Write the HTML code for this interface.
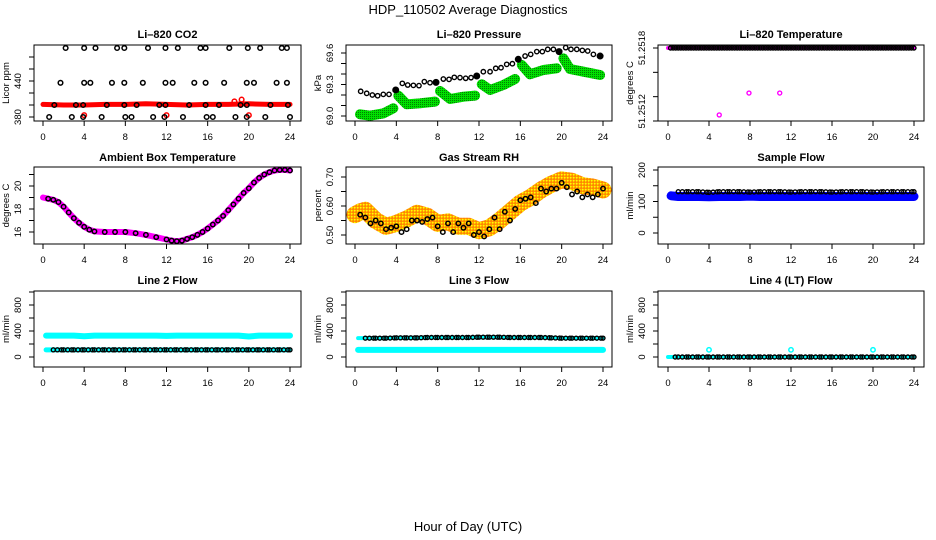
<!DOCTYPE html>
<html><head><meta charset="utf-8"><style>
html,body{margin:0;padding:0;background:#fff;}
svg{display:block;font-family:"Liberation Sans",sans-serif;}
</style></head><body>
<svg id="chart" width="936" height="540" viewBox="0 0 936 540">
<defs>
<pattern id="rhpat" width="3" height="3" patternUnits="userSpaceOnUse">
<rect width="3" height="3" fill="#ffa000"/><rect width="1.5" height="1.5" fill="#ffff00"/><rect x="1.5" y="1.5" width="1" height="1" fill="#ff4000"/>
</pattern>
<pattern id="grpat" width="2" height="2" patternUnits="userSpaceOnUse">
<rect width="2" height="2" fill="#00e000"/><rect width="1" height="1" fill="#008000"/>
</pattern>
</defs>
<text x="468" y="14" font-size="13" text-anchor="middle">HDP_110502  Average Diagnostics</text>
<text x="468" y="531" font-size="13" text-anchor="middle">Hour of Day (UTC)</text>
</svg>
<script>
// ---- data ----
const xTicks = [0,4,8,12,16,20,24];
// CO2
const co2RedHours = [0,2,4,6,8,10,12,14,16,18,20,22,24];
const co2RedVals = [401,400,400,401,401,402,401,400,401,401,402,401,401];
const co2RedOutHours = [4.0,12.0,20.0,18.6,19.3];
const co2RedOutVals = [383,383,383,406,409];
const co2BlkHours = [2.2,4.0,5.1,7.2,7.9,10.2,11.9,13.1,15.3,15.8,18.1,19.9,21.1,23.2,23.7,
 1.7,4.0,4.6,6.7,7.9,9.7,11.9,12.6,14.7,15.8,17.6,19.8,20.5,22.7,23.7,
 1.1,3.2,3.9,6.2,7.9,9.1,11.3,11.9,14.2,15.8,17.1,19.2,19.8,22.1,23.8,
 0.6,2.8,3.9,5.7,8.0,8.6,10.7,11.8,13.6,15.9,16.5,18.7,19.8,21.6,24.0];
const co2BlkVals = [495,495,495,495,495,495,495,495,495,495,495,495,495,495,495,
 437,437,437,437,437,437,437,437,437,437,437,437,437,437,437,
 400,400,400,400,400,400,400,400,400,400,400,400,400,400,400,
 380,380,380,380,380,380,380,380,380,380,380,380,380,380,380];
// Pressure
const presHours = [0.55,1.13,1.68,2.19,2.74,3.29,3.94,4.58,5.1,5.65,6.19,6.71,7.26,7.84,8.55,9.1,9.61,10.16,10.71,11.23,11.78,12.42,13.07,13.62,14.13,14.68,15.23,15.8,16.46,17.0,17.59,18.13,18.65,19.2,19.75,20.39,20.9,21.46,22.0,22.52,23.07,23.72];
const presVals = [69.235,69.216,69.2,69.193,69.206,69.206,69.248,69.311,69.295,69.292,69.289,69.327,69.317,69.32,69.352,69.349,69.368,69.365,69.359,69.365,69.381,69.422,69.422,69.454,69.46,69.492,69.498,69.54,69.571,69.587,69.613,69.613,69.635,69.635,69.613,69.651,69.635,69.635,69.625,69.619,69.587,69.571];
const presGreenHours = [0.32,0.48,1.45,2.74,3.71,4.19,5.0,6.29,7.74,8.23,9.2,10.49,11.62,12.27,13.07,14.36,15.49,16.14,16.94,18.23,19.52,20.17,20.81,22.11,23.72];
const presGreenVals = [69.114,69.016,69.003,69.025,69.073,69.194,69.111,69.121,69.137,69.238,69.162,69.184,69.194,69.302,69.248,69.295,69.352,69.486,69.397,69.438,69.454,69.549,69.448,69.422,69.39];
// Li-820 temperature
const tempHours = [0,1,2,3,4,5,6,7,8,9,10,11,12,13,14,15,16,17,18,19,20,21,22,23,24];
const tempVals = [51.2518,51.2518,51.2518,51.2518,51.2518,51.2518,51.2518,51.2518,51.2518,51.2518,51.2518,51.2518,51.2518,51.2518,51.2518,51.2518,51.2518,51.2518,51.2518,51.2518,51.2518,51.2518,51.2518,51.2518,51.2518];
const tempOutHours = [5.0,7.9,10.9];
const tempOutVals = [51.25125,51.25143,51.25143];
// Ambient box temperature
const ambHours = [0,0.5,1,1.5,2,2.5,3,3.5,4,4.5,5,6,7,8,9,10,11,12,12.5,13,13.5,14,14.5,15,15.5,16,16.5,17,17.5,18,18.5,19,19.5,20,20.5,21,21.5,22,22.5,23,23.5,24];
const ambVals = [19.0,18.9,18.8,18.6,18.2,17.7,17.2,16.8,16.45,16.2,16.05,16.0,16.0,16.0,15.9,15.75,15.55,15.35,15.25,15.2,15.25,15.4,15.55,15.75,16.0,16.3,16.65,17.0,17.4,17.9,18.4,18.9,19.4,19.8,20.3,20.7,21.0,21.2,21.35,21.4,21.4,21.35];
// Gas stream RH
const rhHours = [0.5,1,1.5,2,2.5,3,3.5,4,4.5,5,5.5,6,6.5,7,7.5,8,8.5,9,9.5,10,10.5,11,11.5,12,12.5,13,13.5,14,14.5,15,15.5,16,16.5,17,17.5,18,18.5,19,19.5,20,20.5,21,21.5,22,22.5,23,23.5,24];
const rhVals = [0.57,0.56,0.54,0.55,0.54,0.52,0.525,0.53,0.51,0.52,0.55,0.55,0.545,0.555,0.56,0.53,0.51,0.54,0.51,0.54,0.525,0.54,0.50,0.51,0.495,0.52,0.56,0.52,0.58,0.55,0.59,0.62,0.625,0.63,0.61,0.66,0.65,0.66,0.66,0.68,0.665,0.64,0.65,0.63,0.64,0.63,0.64,0.66];
const rhBandHours = [0,0.5,1,2,3,4,5,6,7,8,9,10,11,12,13,14,15,16,17,18,19,20,21,22,23,24];
const rhBandVals = [0.57,0.58,0.585,0.55,0.53,0.54,0.555,0.575,0.565,0.54,0.545,0.53,0.53,0.515,0.525,0.55,0.58,0.61,0.63,0.655,0.675,0.69,0.685,0.67,0.665,0.655];
// Flows
const flowHours = [0.3,1,2,3,4,5,6,7,8,9,10,11,12,13,14,15,16,17,18,19,20,21,22,23,24];
const sampleBlue = [118,116,116,116,115,116,116,116,117,116,116,116,116,116,116,116,116,116,116,116,116,116,116,116,116];
const sampleBlack = [131,131,131,131,129,131,131,131,130,131,131,131,130,131,131,131,130,131,131,131,130,131,131,131,131];
const l2Cyan = [330,330,330,330,320,330,330,330,330,330,330,330,325,330,330,330,330,330,330,330,315,330,330,330,330];
const l2Black = [110,110,110,110,110,110,110,110,110,110,110,110,110,110,110,110,110,110,110,110,110,110,110,110,110];
const l3Cyan = [110,110,110,110,110,110,110,110,110,110,110,110,110,110,110,110,110,110,110,110,110,110,110,110,110];
const l3Black = [290,290,290,290,295,295,295,300,300,300,300,300,305,305,305,300,300,300,300,295,290,290,290,290,290];
const l4Black = [0,0,0,0,0,0,0,0,0,0,0,0,0,0,0,0,0,0,0,0,0,0,0,0,0];
const l4OutHours = [4,12,20];
const l4OutVals = [110,110,110];

// ---- drawing ----
const svg = document.getElementById('chart');
const NS = 'http://www.w3.org/2000/svg';
function mk(tag, attrs, parent){
  const e = document.createElementNS(NS, tag);
  for (const k in attrs) e.setAttribute(k, attrs[k]);
  (parent||svg).appendChild(e);
  return e;
}
const cols = [{l:34,r:301,x0:43,x1:290},{l:346,r:612,x0:355,x1:603},{l:658,r:924,x0:668,x1:914}];
const rows = [{t:45,b:121,ty:38},{t:167,b:244,ty:161},{t:291,b:367,ty:284}];

function panel(ci, ri, name, title, ylab, yv0, yp0, yv1, yp1, yTicks, yLabels){
  const c = cols[ci], r = rows[ri];
  const g = mk('g', {});
  
  
  const sx = h => c.x0 + (c.x1 - c.x0) * h / 24;
  const sy = v => yp0 + (yp1 - yp0) * (v - yv0) / (yv1 - yv0);
  const t = mk('text', {x:(c.l+c.r)/2, y:r.ty, 'font-size':11, 'font-weight':'bold', 'text-anchor':'middle'}, g);
  t.textContent = title;
  
  
  const data = mk('g', {}, g);
  
  
  const box = mk('rect', {x:c.l, y:r.t, width:c.r-c.l, height:r.b-r.t, fill:'none', stroke:'#000', 'stroke-width':1}, g);
  
  
  const xa = mk('g', {}, g);
  
  
  xTicks.forEach(v => {
    mk('line', {x1:sx(v), x2:sx(v), y1:r.b, y2:r.b+5, stroke:'#000'}, xa);
    const tl = mk('text', {x:sx(v), y:r.b+19, 'font-size':9.5, 'text-anchor':'middle'}, xa);
    tl.textContent = v;
  });
  const ya = mk('g', {}, g);
  
  
  yTicks.forEach(v => mk('line', {x1:c.l-5, x2:c.l, y1:sy(v), y2:sy(v), stroke:'#000'}, ya));
  yLabels.forEach(([v, s]) => {
    const tl = mk('text', {x:c.l-13, y:sy(v), 'font-size':9.5, 'text-anchor':'middle', transform:`rotate(-90 ${c.l-13} ${sy(v)})`}, ya);
    tl.textContent = s;
  });
  const yt = mk('text', {x:c.l-25, y:(r.t+r.b)/2, 'font-size':9.5, 'text-anchor':'middle', transform:`rotate(-90 ${c.l-25} ${(r.t+r.b)/2})`}, g);
  yt.textContent = ylab;
  
  
  return {g:data, sx, sy};
}
function line(p, hs, vs, color, w, nm){
  const pts = hs.map((h,i)=>p.sx(h).toFixed(1)+','+p.sy(vs[i]).toFixed(1)).join(' ');
  const e = mk('polyline', {points:pts, fill:'none', stroke:color, 'stroke-width':w, 'stroke-linejoin':'round', 'stroke-linecap':'round'}, p.g);
  
  
}
function pts(p, hs, vs, color, rad, sw, nm, fill){
  hs.forEach((h,i)=>{
    const e = mk('circle', {cx:p.sx(h), cy:p.sy(vs[i]), r:rad, fill:fill||'none', stroke:color, 'stroke-width':sw}, p.g);
    
    
  });
}
function dense(hs, vs, step){
  const H=[],V=[];
  for(let i=0;i<hs.length-1;i++){
    for(let h=hs[i]; h<hs[i+1]-1e-6; h+=step){ H.push(h); V.push(vs[i]+(vs[i+1]-vs[i])*(h-hs[i])/(hs[i+1]-hs[i])); }
  }
  H.push(hs[hs.length-1]); V.push(vs[vs.length-1]);
  return [H,V];
}

// Panel 1: CO2
let p = panel(0,0,'co2','Li\u2013820 CO2','Licor ppm',380,117,440,81,[380,400,420,440,460,480],[[380,'380'],[440,'440']]);
line(p, co2RedHours, co2RedVals, '#ff0000', 5, 'co2-red-band');
pts(p, co2RedOutHours, co2RedOutVals, '#ff0000', 2.3, 1.5, 'co2-red-point');
pts(p, co2BlkHours, co2BlkVals, '#000', 2.3, 1.5, 'co2-black-point');

// Panel 2: Pressure
p = panel(1,0,'pressure','Li\u2013820 Pressure','kPa',69.0,116,69.6,53,[69.0,69.1,69.2,69.3,69.4,69.5,69.6],[[69.0,'69.0'],[69.3,'69.3'],[69.6,'69.6']]);
[[0,1],[1,5],[5,9],[9,13],[13,17],[17,21],[21,25]].forEach(([a,b])=>{
  line(p, presGreenHours.slice(a,b), presGreenVals.slice(a,b), 'url(#grpat)', 10, 'pressure-green-band');
});
pts(p, presHours, presVals, '#000', 2.2, 1.4, 'pressure-point');
[3.94,7.84,11.78,15.8,19.75,23.72].forEach(h=>{
  const i = presHours.indexOf(h);
  pts(p, [h], [presVals[i]], '#000', 3, 1, 'pressure-filled-point', '#000');
});

// Panel 3: Li-820 temperature
p = panel(2,0,'li820-temp','Li\u2013820 Temperature','degrees C',51.2512,121,51.2518,48,[51.2512,51.2514,51.2516,51.2518],[[51.2518,'51.2518'],[51.25128,'51.2512']]);
line(p, tempHours, tempVals, '#ff00ff', 4, 'li820-temp-magenta');
let d = dense(tempHours, tempVals, 0.25);
pts(p, d[0].slice(1), d[1].slice(1), '#000', 2, 1.4, 'li820-temp-point');
pts(p, tempOutHours, tempOutVals, '#ff00ff', 2, 1.4, 'li820-temp-outlier');

// Panel 4: Ambient
p = panel(0,1,'ambient','Ambient Box Temperature','degrees C',16,232,20,186,[16,17,18,19,20,21],[[16,'16'],[18,'18'],[20,'20']]);
line(p, ambHours, ambVals, '#ff00ff', 6, 'ambient-magenta-band');
pts(p, ambHours.slice(1), ambVals.slice(1), '#000', 2.2, 1.5, 'ambient-point');

// Panel 5: RH
p = panel(1,1,'rh','Gas Stream RH','percent',0.50,235,0.70,177,[0.50,0.55,0.60,0.65,0.70],[[0.50,'0.50'],[0.60,'0.60'],[0.70,'0.70']]);
line(p, rhBandHours, rhBandVals, 'url(#rhpat)', 17, 'rh-band');
pts(p, rhHours, rhVals, '#000', 2.2, 1.5, 'rh-point');

// Panel 6: Sample flow
p = panel(2,1,'sample-flow','Sample Flow','ml/min',0,233,200,170,[0,50,100,150,200],[[0,'0'],[100,'100'],[200,'200']]);
line(p, flowHours, sampleBlue, '#0000ff', 9, 'sample-flow-blue');
d = dense(flowHours, sampleBlack, 0.4);
pts(p, d[0].slice(2), d[1].slice(2), '#000', 2, 1.4, 'sample-flow-point');

// Panel 7: Line 2
const fT = [0,200,400,600,800,1000], fL = [[0,'0'],[400,'400'],[800,'800']];
p = panel(0,2,'line2-flow','Line 2 Flow','ml/min',0,357,800,305,fT,fL);
line(p, flowHours, l2Cyan, '#00ffff', 6, 'line2-cyan');
line(p, flowHours, l2Black, '#00ffff', 5, 'line2-cyan-low');
d = dense(flowHours, l2Black, 0.4);
pts(p, d[0].slice(2), d[1].slice(2), '#000', 2, 1.4, 'line2-point');

// Panel 8: Line 3
p = panel(1,2,'line3-flow','Line 3 Flow','ml/min',0,357,800,305,fT,fL);
line(p, flowHours, l3Cyan, '#00ffff', 6, 'line3-cyan');
line(p, flowHours, l3Black, '#00ffff', 4, 'line3-cyan-high');
d = dense(flowHours, l3Black, 0.4);
pts(p, d[0].slice(2), d[1].slice(2), '#000', 2, 1.4, 'line3-point');

// Panel 9: Line 4
p = panel(2,2,'line4-flow','Line 4 (LT) Flow','ml/min',0,357,800,305,fT,fL);
line(p, [0,24], [0,0], '#00ffff', 4, 'line4-cyan');
d = dense(flowHours, l4Black, 0.4);
pts(p, d[0].slice(1), d[1].slice(1), '#000', 2, 1.4, 'line4-point');
pts(p, l4OutHours, l4OutVals, '#00ffff', 2.2, 1.5, 'line4-outlier');
</script>
</body></html>
